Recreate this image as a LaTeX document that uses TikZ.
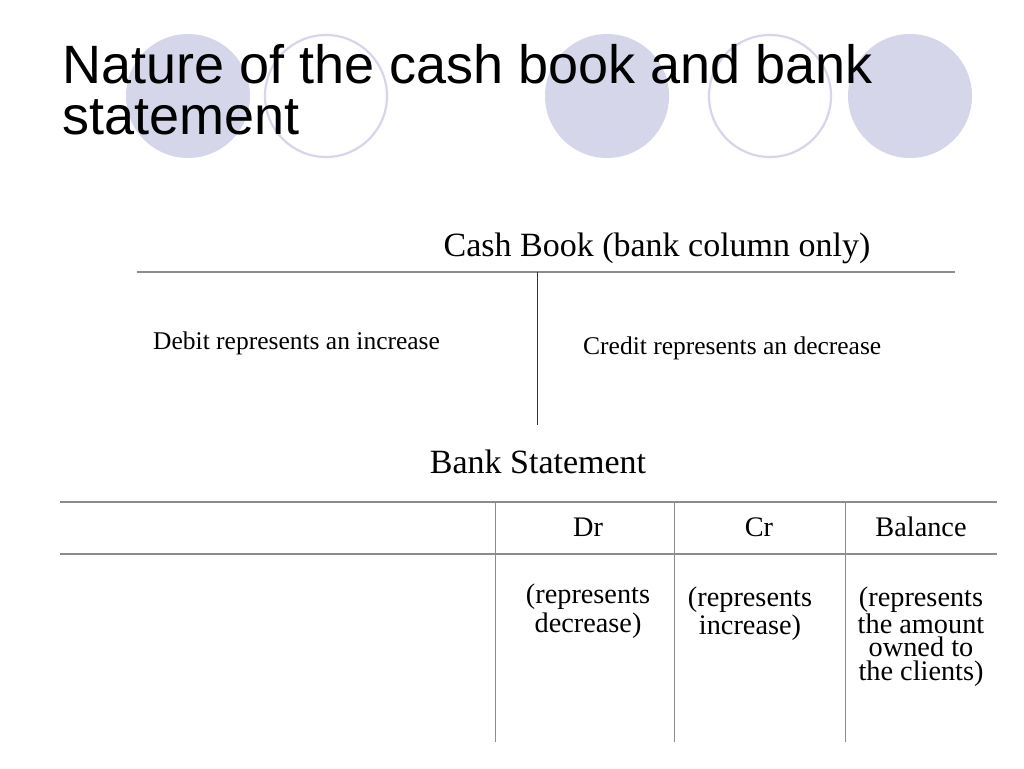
\documentclass[tikz,border=0pt]{standalone}
\usepackage{fontspec}
\setmainfont{Liberation Serif}
\newfontfamily\titlefont{Liberation Sans}
\begin{document}
\begin{tikzpicture}[x=1pt,y=-1pt,
  deco/.style={fill=lav,draw=none},
  decoring/.style={draw=lav,line width=2.2pt,fill=none},
  rule/.style={draw=gray!90,line width=1.3pt},
  vrule/.style={draw=black!80,line width=0.9pt},
  ttl/.style={inner sep=0pt,anchor=base west,font=\titlefont\fontsize{54}{51}\selectfont},
  lbl/.style={inner sep=0pt,anchor=base,font=\fontsize{25.5}{27}\selectfont},
  head/.style={inner sep=0pt,anchor=base,font=\fontsize{34}{36}\selectfont},
  cell/.style={inner sep=0pt,anchor=base,text height=18pt,text depth=4pt,font=\fontsize{28.3}{29}\selectfont}]
\definecolor{lav}{HTML}{D6D6EB}
\useasboundingbox[fill=white] (0,0) rectangle (1024,768);
% decorative circles
\fill[deco] (188,96) circle (62);
\draw[decoring] (326,96) circle (61);
\fill[deco] (607,96) circle (62);
\draw[decoring] (770,96) circle (61);
\fill[deco] (910,96) circle (62);
% title
\node[ttl] (t1) at (62,83) {Nature of the cash book and bank};
\node[ttl] (t2) at (62,134) {statement};
% cash book
\node[head] (cb) at (657,256) {Cash Book (bank column only)};
\coordinate (cbL) at (137,272);
\coordinate (cbR) at (955,272);
\coordinate (cbT) at (537,272);
\coordinate (cbB) at (537,425);
\draw[rule] (cbL) -- (cbR);
\draw[vrule] (cbT) -- (cbB);
\node[lbl,anchor=base west] (deb) at (153,349) {Debit represents an increase};
\node[lbl,anchor=base west] (cre) at (583,354) {Credit represents an decrease};
% bank statement
\node[head] (bs) at (538,473) {Bank Statement};
\coordinate (h1L) at (60,502);
\coordinate (h1R) at (997,502);
\coordinate (h2L) at (60,554);
\coordinate (h2R) at (997,554);
\draw[rule] (h1L) -- (h1R);
\draw[rule] (h2L) -- (h2R);
\foreach \xx/\nm in {495/a,674/b,845/c}{
  \coordinate (v\nm T) at (\xx,502);
  \coordinate (v\nm B) at (\xx,742);
  \draw[rule,line width=1pt] (v\nm T) -- (v\nm B);
}
\node[cell] (dr) at (588,536) {Dr};
\node[cell] (cr) at (759,536) {Cr};
\node[cell] (bal) at (921,536) {Balance};
\node[cell] (d1) at (588,603) {(represents};
\node[cell] (d2) at (588,632) {decrease)};
\node[cell] (i1) at (750,606) {(represents};
\node[cell] (i2) at (750,634) {increase)};
\node[cell] (b1) at (921,606) {(represents};
\node[cell] (b2) at (921,633) {the amount};
\node[cell] (b3) at (921,656) {owned to};
\node[cell] (b4) at (921,680) {the clients)};
\end{tikzpicture}
\end{document}
